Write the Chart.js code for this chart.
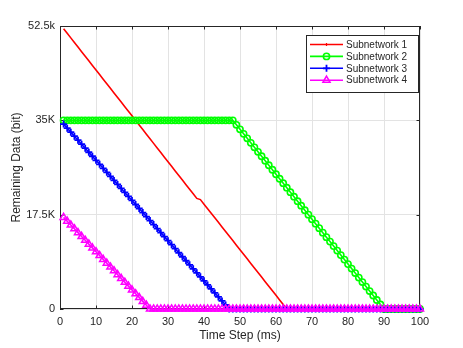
<!DOCTYPE html>
<html>
<head>
<meta charset="utf-8">
<script src="https://cdn.jsdelivr.net/npm/chart.js@4/dist/chart.umd.min.js"></script>
<style>
  html, body { margin: 0; padding: 0; background: #fff; }
  canvas { display: block; }
</style>
</head>
<body>
<canvas id="c" width="463" height="348"></canvas>
<script>
// ---- data ----
const timeSteps = [1,2,3,4,5,6,7,8,9,10,11,12,13,14,15,16,17,18,19,20,
  21,22,23,24,25,26,27,28,29,30,31,32,33,34,35,36,37,38,39,40,
  41,42,43,44,45,46,47,48,49,50,51,52,53,54,55,56,57,58,59,60,
  61,62,63,64,65,66,67,68,69,70,71,72,73,74,75,76,77,78,79,80,
  81,82,83,84,85,86,87,88,89,90,91,92,93,94,95,96,97,98,99,100];

const seriesNames = ['Subnetwork 1', 'Subnetwork 2', 'Subnetwork 3', 'Subnetwork 4'];

const subnetwork1 = [52000,51149,50298,49447,48596,47745,46894,46043,45192,44341,
  43490,42639,41788,40937,40086,39235,38384,37533,36682,35831,
  34980,34129,33278,32427,31576,30725,29874,29023,28172,27321,
  26470,25619,24768,23917,23066,22215,21364,20513,20300,19454,
  18608,17763,16917,16071,15225,14379,13533,12688,11842,10996,
  10150,9304,8458,7613,6767,5921,5075,4229,3383,2538,
  1692,846,0,0,0,0,0,0,0,0,
  0,0,0,0,0,0,0,0,0,0,
  0,0,0,0,0,0,0,0,0,0,
  0,0,0,0,0,0,0,0,0,0];

const subnetwork2 = [35000,35000,35000,35000,35000,35000,35000,35000,35000,35000,
  35000,35000,35000,35000,35000,35000,35000,35000,35000,35000,
  35000,35000,35000,35000,35000,35000,35000,35000,35000,35000,
  35000,35000,35000,35000,35000,35000,35000,35000,35000,35000,
  35000,35000,35000,35000,35000,35000,35000,35000,34167,33333,
  32500,31667,30833,30000,29167,28333,27500,26667,25833,25000,
  24167,23333,22500,21667,20833,20000,19167,18333,17500,16667,
  15833,15000,14167,13333,12500,11667,10833,10000,9167,8333,
  7500,6667,5833,5000,4167,3333,2500,1667,833,0,
  0,0,0,0,0,0,0,0,0,0];

const subnetwork3 = [34300,33554,32809,32063,31317,30572,29826,29080,28335,27589,
  26843,26098,25352,24607,23861,23115,22370,21624,20878,20133,
  19387,18641,17896,17150,16404,15659,14913,14167,13422,12676,
  11930,11185,10439,9693,8948,8202,7457,6711,5965,5220,
  4474,3728,2983,2237,1491,746,0,0,0,0,
  0,0,0,0,0,0,0,0,0,0,
  0,0,0,0,0,0,0,0,0,0,
  0,0,0,0,0,0,0,0,0,0,
  0,0,0,0,0,0,0,0,0,0,
  0,0,0,0,0,0,0,0,0,0];

const subnetwork4 = [17000,16292,15583,14875,14167,13458,12750,12042,11333,10625,
  9917,9208,8500,7792,7083,6375,5667,4958,4250,3542,
  2833,2125,1417,708,0,0,0,0,0,0,
  0,0,0,0,0,0,0,0,0,0,
  0,0,0,0,0,0,0,0,0,0,
  0,0,0,0,0,0,0,0,0,0,
  0,0,0,0,0,0,0,0,0,0,
  0,0,0,0,0,0,0,0,0,0,
  0,0,0,0,0,0,0,0,0,0,
  0,0,0,0,0,0,0,0,0,0];

const xTickValues = [0,10,20,30,40,50,60,70,80,90,100];
const yTickValues = [0, 17500, 35000, 52500];
const yTickLabels = ['0', '17.5K', '35K', '52.5k'];

// ---- styling ----
const FONT = "'Liberation Sans', Arial, Helvetica, sans-serif";
const TEXT = '#262626';
const GRID = '#e3e3e3';

const toPoints = vals => timeSteps.map((t, i) => ({ x: t, y: vals[i] }));

const styles = [
  { color: '#ff0000', pointStyle: 'cross', radius: 0, legendRadius: 1.6, pbw: 1.2, order: 4 },
  { color: '#00ff00', pointStyle: 'circle', radius: 3.1, legendRadius: 3.1, pbw: 1.6, order: 3 },
  { color: '#0000ff', pointStyle: 'cross', radius: 3.5, legendRadius: 3.5, pbw: 1.8, order: 2 },
  { color: '#ff00ff', pointStyle: 'triangle', radius: 4.1, legendRadius: 4.1, pbw: 1.5, order: 1 }
];
const allSeries = [subnetwork1, subnetwork2, subnetwork3, subnetwork4];

const datasets = allSeries.map((vals, i) => ({
  label: seriesNames[i],
  data: toPoints(vals),
  borderColor: styles[i].color,
  backgroundColor: 'rgba(0,0,0,0)',
  pointBorderColor: styles[i].color,
  pointBackgroundColor: 'rgba(0,0,0,0)',
  pointStyle: styles[i].pointStyle,
  pointRadius: styles[i].radius,
  pointHoverRadius: styles[i].radius,
  pointBorderWidth: styles[i].pbw,
  borderWidth: 1.6,
  tension: 0,
  order: styles[i].order,
  clip: false
}));

// frame + inward ticks (drawn beneath data)
const framePlugin = {
  id: 'frame',
  beforeDatasetsDraw(chart) {
    const { ctx, chartArea: a, scales } = chart;
    ctx.save();
    ctx.strokeStyle = TEXT;
    ctx.lineWidth = 1;
    ctx.beginPath();
    ctx.rect(a.left + 0.5, a.top + 0.5, a.right - a.left - 1, a.bottom - a.top - 1);
    ctx.stroke();
    ctx.beginPath();
    const tl = 3.5;
    xTickValues.forEach(v => {
      const px = Math.round(scales.x.getPixelForValue(v)) + 0.5;
      ctx.moveTo(px, a.bottom); ctx.lineTo(px, a.bottom - tl);
      ctx.moveTo(px, a.top); ctx.lineTo(px, a.top + tl);
    });
    yTickValues.forEach(v => {
      const py = Math.round(scales.y.getPixelForValue(v)) + 0.5;
      ctx.moveTo(a.left, py); ctx.lineTo(a.left + tl, py);
      ctx.moveTo(a.right, py); ctx.lineTo(a.right - tl, py);
    });
    ctx.stroke();
    ctx.restore();
  }
};

// MATLAB-style legend box (line + marker samples)
const legendPlugin = {
  id: 'mlegend',
  afterDatasetsDraw(chart) {
    const { ctx, chartArea: a } = chart;
    const bx = a.right - 114, by = a.top + 9, bw = 112, bh = 57;
    ctx.save();
    ctx.fillStyle = '#ffffff';
    ctx.fillRect(bx, by, bw, bh);
    ctx.strokeStyle = '#262626';
    ctx.lineWidth = 1;
    ctx.strokeRect(bx + 0.5, by + 0.5, bw, bh);
    ctx.font = '10px ' + FONT;
    ctx.textBaseline = 'middle';
    ctx.textAlign = 'left';
    chart.data.datasets.forEach((ds, i) => {
      const y = by + 9.5 + i * 11.9;
      const x0 = bx + 4, x1 = bx + 37, xm = (x0 + x1) / 2;
      ctx.strokeStyle = ds.borderColor;
      ctx.lineWidth = ds.borderWidth;
      ctx.beginPath();
      ctx.moveTo(x0, y); ctx.lineTo(x1, y);
      ctx.stroke();
      ctx.fillStyle = 'rgba(0,0,0,0)';
      ctx.strokeStyle = ds.borderColor;
      ctx.lineWidth = ds.pointBorderWidth;
      Chart.helpers.drawPoint(ctx, {
        pointStyle: ds.pointStyle,
        radius: styles[i].legendRadius,
        borderWidth: ds.pointBorderWidth,
        rotation: 0
      }, xm, y);
      ctx.fillStyle = TEXT;
      ctx.fillText(ds.label, bx + 40, y + 0.5);
    });
    ctx.restore();
  }
};

new Chart(document.getElementById('c'), {
  type: 'line',
  data: { datasets },
  options: {
    responsive: false,
    animation: false,
    devicePixelRatio: 1,
    layout: { padding: { left: 0, top: 26, right: 43, bottom: 0 } },
    plugins: {
      legend: { display: false },
      tooltip: { enabled: false }
    },
    scales: {
      x: {
        type: 'linear',
        min: 0, max: 100,
        afterFit(s) { s.height = 39; },
        afterBuildTicks(s) { s.ticks = xTickValues.map(v => ({ value: v })); },
        border: { display: false },
        grid: { color: GRID, drawTicks: false, lineWidth: 1 },
        ticks: { color: TEXT, font: { family: FONT, size: 11 }, padding: 6, maxRotation: 0, autoSkip: false },
        title: { display: true, text: 'Time Step (ms)', color: TEXT, font: { family: FONT, size: 12 }, padding: { top: 0, bottom: 5 } }
      },
      y: {
        type: 'linear',
        min: 0, max: 52500,
        afterFit(s) { s.width = 60; },
        afterBuildTicks(s) { s.ticks = yTickValues.map(v => ({ value: v })); },
        border: { display: false },
        grid: { color: GRID, drawTicks: false, lineWidth: 1 },
        ticks: {
          color: TEXT, font: { family: FONT, size: 11 }, padding: 5, autoSkip: false,
          callback: (v) => { const k = yTickValues.indexOf(v); return k >= 0 ? yTickLabels[k] : ''; }
        },
        title: { display: true, text: 'Remaining Data (bit)', color: TEXT, font: { family: FONT, size: 12 }, padding: { top: 9, bottom: 0 } }
      }
    }
  },
  plugins: [framePlugin, legendPlugin]
});
</script>
</body>
</html>
